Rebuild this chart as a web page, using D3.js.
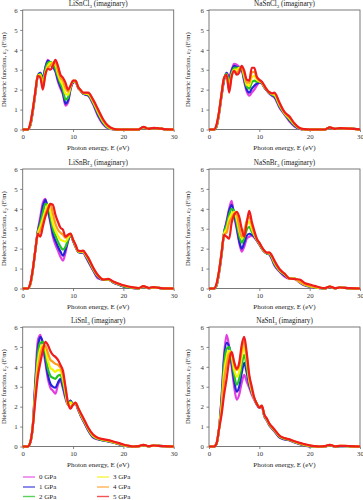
<!DOCTYPE html>
<html>
<head>
<meta charset="utf-8">
<script src="https://cdn.jsdelivr.net/npm/d3@7/dist/d3.min.js"></script>
<style>
  body { margin: 0; background: #fff; }
  svg { display: block; font-family: "Liberation Serif", "DejaVu Serif", serif; }
</style>
</head>
<body>
<svg id="chart" width="363" height="500"></svg>
<script>
// photon energy grid (eV)
const energy = [0, 1, 1.5, 2, 2.5, 3, 3.5, 4, 4.5, 5, 5.5, 6, 6.5, 7, 7.5, 8, 8.5, 9, 9.5, 10,
  10.5, 11, 11.5, 12, 12.5, 13, 14, 15, 16, 17, 18, 19, 20, 21, 22, 23, 24, 25, 26, 27, 28, 30];

const pressures = ['0 GPa', '1 GPa', '2 GPa', '3 GPa', '4 GPa', '5 GPa'];
const colors = ['#e23ee2', '#2323d8', '#22c422', '#f4f400', '#ff9a1a', '#ee1c1c'];
const xTicks = [0, 10, 20, 30];
const yTicks = [0, 1, 2, 3, 4, 5, 6];

// eps2 values, one row per pressure (0..5 GPa)
const liSnCl3 = [
  [0,0,0.2,0.9,1.8,2.7,2.85,2.6,3.1,3.5,3.3,3.1,2.9,2.4,2.05,1.75,1.2,1.35,2.0,2.35,2.4,2.1,1.95,1.8,1.75,1.7,1.25,0.65,0.25,0.05,0.01,0,0,0,0,0,0.12,0.03,0.07,0.06,0.02,0],
  [0,0,0.2,0.9,1.8,2.7,2.85,2.55,3.1,3.45,3.35,3.15,2.95,2.5,2.15,1.85,1.3,1.45,2.05,2.35,2.4,2.1,1.95,1.8,1.75,1.72,1.3,0.72,0.3,0.07,0.01,0,0,0,0,0,0.12,0.03,0.07,0.06,0.02,0],
  [0,0,0.2,0.95,1.8,2.7,2.8,2.45,3.0,3.35,3.4,3.25,3.05,2.65,2.3,2.0,1.5,1.6,2.1,2.4,2.42,2.12,1.95,1.82,1.78,1.75,1.35,0.8,0.35,0.09,0.02,0,0,0,0,0,0.12,0.03,0.07,0.06,0.02,0],
  [0,0,0.25,0.95,1.85,2.7,2.75,2.3,2.85,3.2,3.35,3.3,3.25,2.8,2.45,2.2,1.8,1.75,2.15,2.42,2.43,2.13,1.96,1.83,1.8,1.78,1.4,0.87,0.4,0.12,0.02,0,0,0,0,0,0.12,0.03,0.07,0.06,0.02,0],
  [0,0,0.25,1.0,1.85,2.7,2.7,2.15,2.75,3.1,3.2,3.35,3.4,2.95,2.6,2.45,2.1,1.9,2.2,2.45,2.44,2.14,1.97,1.84,1.82,1.82,1.45,0.93,0.45,0.15,0.03,0,0,0,0,0,0.12,0.03,0.07,0.06,0.02,0],
  [0,0,0.3,1.0,1.9,2.7,2.6,2.0,2.75,3.05,3.0,3.2,3.5,3.2,2.75,2.6,2.35,2.0,2.2,2.45,2.45,2.15,1.98,1.85,1.85,1.85,1.5,1.0,0.5,0.18,0.04,0,0,0,0,0,0.13,0.03,0.08,0.06,0.02,0]
];
const naSnCl3 = [
  [0,0,0.15,0.8,1.7,2.5,2.85,2.65,3.0,3.3,3.25,3.15,3.0,2.4,1.9,1.7,1.85,2.0,2.2,2.35,2.3,2.1,1.95,1.8,1.7,1.6,1.1,0.75,0.4,0.15,0.03,0,0,0,0,0,0.1,0.03,0.07,0.05,0.04,0],
  [0,0,0.15,0.8,1.7,2.5,2.85,2.5,2.95,3.2,3.15,3.1,3.0,2.5,2.0,1.85,2.05,2.2,2.3,2.37,2.32,2.12,1.96,1.82,1.72,1.65,1.15,0.78,0.45,0.18,0.04,0,0,0,0,0,0.1,0.03,0.07,0.05,0.04,0],
  [0,0,0.15,0.85,1.75,2.55,2.8,2.35,2.85,3.1,3.1,3.1,3.05,2.6,2.15,2.05,2.35,2.45,2.4,2.4,2.33,2.13,1.97,1.83,1.75,1.7,1.2,0.8,0.5,0.22,0.05,0,0,0,0,0,0.1,0.03,0.07,0.05,0.04,0],
  [0,0,0.2,0.85,1.75,2.6,2.75,2.2,2.75,3.0,3.0,3.1,3.1,2.7,2.25,2.2,2.6,2.7,2.5,2.42,2.35,2.15,1.98,1.85,1.78,1.75,1.25,0.82,0.55,0.25,0.06,0,0,0,0,0,0.1,0.03,0.07,0.05,0.04,0],
  [0,0,0.2,0.9,1.8,2.6,2.7,2.0,2.7,2.95,2.85,3.0,3.15,2.8,2.35,2.35,2.85,2.9,2.6,2.45,2.37,2.17,2.0,1.86,1.8,1.8,1.3,0.85,0.6,0.28,0.07,0,0,0,0,0,0.1,0.03,0.07,0.06,0.04,0],
  [0,0,0.25,0.9,1.8,2.6,2.75,1.85,2.65,2.95,2.75,2.85,3.2,2.95,2.5,2.45,3.1,3.1,2.65,2.5,2.4,2.2,2.0,1.87,1.82,1.85,1.35,0.88,0.65,0.3,0.08,0.02,0,0,0,0,0.11,0.03,0.07,0.06,0.04,0.01]
];
const liSnBr3 = [
  [0,0,0.2,0.9,1.9,2.9,3.6,4.3,4.5,3.9,3.3,2.6,2.2,1.9,1.6,1.4,1.8,2.35,2.7,2.4,2.1,1.85,1.8,1.8,1.6,1.35,0.9,0.5,0.45,0.45,0.3,0.2,0.1,0.05,0.02,0,0.1,0.02,0.05,0.03,0.01,0],
  [0,0,0.2,0.9,1.9,2.85,3.4,4.1,4.45,4.0,3.4,2.75,2.4,2.1,1.85,1.65,1.95,2.4,2.7,2.4,2.1,1.85,1.8,1.82,1.63,1.4,0.93,0.55,0.45,0.45,0.3,0.2,0.1,0.05,0.02,0,0.1,0.02,0.05,0.03,0.01,0],
  [0,0,0.2,0.9,1.9,2.8,3.25,3.8,4.25,4.2,3.6,3.0,2.65,2.35,2.1,1.95,2.1,2.45,2.72,2.42,2.12,1.86,1.82,1.84,1.66,1.45,0.96,0.6,0.45,0.45,0.32,0.22,0.12,0.06,0.03,0,0.1,0.02,0.05,0.03,0.01,0],
  [0,0,0.2,0.9,1.9,2.75,3.1,3.5,3.9,4.2,3.85,3.25,2.9,2.65,2.45,2.4,2.35,2.55,2.74,2.44,2.14,1.87,1.84,1.86,1.69,1.5,1.0,0.62,0.46,0.46,0.33,0.23,0.14,0.08,0.04,0.01,0.11,0.02,0.06,0.03,0.01,0],
  [0,0,0.25,0.95,1.9,2.7,2.9,3.3,3.7,4.05,4.25,3.75,3.25,2.95,2.8,2.7,2.55,2.65,2.75,2.45,2.16,1.88,1.86,1.88,1.72,1.55,1.02,0.65,0.46,0.47,0.34,0.24,0.15,0.09,0.05,0.01,0.11,0.02,0.06,0.03,0.01,0],
  [0,0,0.25,0.95,1.9,2.75,2.6,3.1,3.6,3.95,4.25,4.2,3.7,3.35,3.05,2.95,2.6,2.7,2.76,2.45,2.2,1.9,1.88,1.9,1.75,1.55,1.05,0.65,0.45,0.48,0.35,0.25,0.16,0.1,0.06,0.02,0.12,0.03,0.07,0.03,0.01,0]
];
const naSnBr3 = [
  [0,0,0.15,0.8,1.7,2.8,3.4,4.0,4.4,3.6,3.0,2.3,1.85,2.1,2.5,2.6,2.65,2.55,2.4,2.2,2.0,1.85,1.75,1.7,1.45,1.15,0.85,0.6,0.5,0.5,0.3,0.15,0.08,0.05,0.02,0,0.08,0.01,0.04,0.03,0.01,0],
  [0,0,0.15,0.8,1.7,2.8,3.3,3.9,4.2,3.75,3.1,2.4,2.0,2.3,2.65,2.75,2.7,2.6,2.42,2.22,2.0,1.85,1.76,1.72,1.5,1.2,0.88,0.65,0.5,0.5,0.32,0.17,0.1,0.05,0.02,0,0.08,0.01,0.04,0.03,0.01,0],
  [0,0,0.15,0.85,1.75,2.8,3.2,3.7,4.0,3.9,3.3,2.65,2.3,2.55,2.95,3.1,2.85,2.65,2.44,2.24,2.02,1.86,1.77,1.74,1.55,1.25,0.9,0.7,0.5,0.5,0.33,0.18,0.11,0.06,0.03,0,0.09,0.01,0.04,0.03,0.01,0],
  [0,0,0.2,0.85,1.75,2.75,3.0,3.5,3.75,3.85,3.5,2.9,2.5,2.75,3.2,3.35,3.0,2.7,2.46,2.26,2.04,1.87,1.78,1.76,1.6,1.3,0.93,0.72,0.5,0.5,0.34,0.2,0.12,0.07,0.03,0.01,0.09,0.01,0.04,0.03,0.01,0],
  [0,0,0.2,0.9,1.8,2.7,2.8,3.3,3.55,3.75,3.75,3.1,2.6,2.9,3.4,3.6,3.2,2.75,2.48,2.28,2.06,1.88,1.79,1.78,1.63,1.35,0.95,0.74,0.5,0.5,0.35,0.21,0.14,0.08,0.04,0.01,0.09,0.02,0.05,0.03,0.02,0],
  [0,0,0.25,0.9,1.8,2.7,2.6,2.5,3.3,3.7,3.85,3.6,3.0,2.6,3.3,3.9,3.35,2.9,2.5,2.3,2.08,1.9,1.8,1.82,1.65,1.4,0.98,0.75,0.5,0.47,0.45,0.28,0.2,0.13,0.05,0.02,0.1,0.02,0.05,0.03,0.02,0]
];
const liSnI3 = [
  [0,0,0.2,1.0,3.3,5.3,5.6,5.0,4.2,3.4,2.95,2.8,2.65,3.1,3.3,2.9,2.4,2.1,2.3,2.1,2.15,1.85,1.55,1.3,1.05,0.8,0.45,0.35,0.3,0.25,0.2,0.12,0.05,0.01,0,0,0.07,0.01,0.04,0.03,0.02,0],
  [0,0,0.2,1.0,3.1,4.9,5.5,5.2,4.4,3.6,3.15,3.0,2.95,3.2,3.4,3.0,2.5,2.15,2.3,2.1,2.16,1.87,1.57,1.32,1.08,0.83,0.47,0.37,0.3,0.26,0.2,0.13,0.05,0.01,0,0,0.07,0.01,0.04,0.03,0.02,0],
  [0,0,0.2,1.0,2.9,4.6,5.2,5.25,4.7,3.9,3.55,3.45,3.4,3.55,3.6,3.2,2.6,2.1,2.25,2.1,2.17,1.9,1.6,1.35,1.12,0.87,0.5,0.38,0.32,0.27,0.21,0.14,0.06,0.02,0,0,0.07,0.01,0.04,0.03,0.02,0],
  [0,0,0.2,1.0,2.7,4.2,4.9,5.1,4.9,4.3,3.95,3.85,3.75,3.85,3.8,3.4,2.75,2.1,2.2,2.1,2.18,1.92,1.63,1.38,1.15,0.9,0.53,0.4,0.33,0.28,0.22,0.15,0.07,0.02,0,0,0.07,0.01,0.04,0.03,0.02,0],
  [0,0,0.2,1.0,2.5,3.8,4.6,5.0,5.05,4.7,4.35,4.25,4.15,4.1,3.95,3.6,2.9,2.15,2.0,2.1,2.19,1.94,1.66,1.4,1.18,0.93,0.56,0.42,0.35,0.3,0.23,0.16,0.08,0.03,0,0.01,0.08,0.01,0.05,0.03,0.02,0],
  [0,0,0.2,1.0,2.3,3.5,4.2,4.8,5.25,5.1,4.8,4.6,4.5,4.35,4.1,3.8,3.0,2.2,1.9,2.1,2.2,1.95,1.7,1.45,1.2,0.95,0.6,0.43,0.37,0.32,0.25,0.18,0.1,0.04,0,0.02,0.08,0.02,0.05,0.03,0.02,0]
];
const naSnI3 = [
  [0,0,0.15,0.9,2.5,4.6,5.6,5.0,4.0,3.0,2.35,2.6,3.2,3.6,3.25,2.95,2.6,2.35,2.1,1.95,2.0,1.5,1.3,1.05,0.9,0.75,0.45,0.35,0.3,0.2,0.12,0.05,0,0,0,0,0.06,0,0.02,0.02,0.01,0],
  [0,0,0.15,0.9,2.4,4.4,5.2,5.0,4.2,3.3,2.75,3.0,3.7,4.2,3.7,3.1,2.7,2.4,2.12,1.96,2.0,1.52,1.32,1.07,0.92,0.78,0.47,0.37,0.32,0.22,0.13,0.06,0.01,0,0,0,0.06,0,0.02,0.02,0.01,0],
  [0,0,0.15,0.9,2.2,4.1,4.9,5.0,4.4,3.6,3.1,3.4,4.1,4.6,4.0,3.25,2.75,2.4,2.14,1.97,2.02,1.54,1.34,1.09,0.94,0.8,0.5,0.38,0.33,0.23,0.14,0.07,0.02,0,0,0,0.07,0,0.02,0.02,0.01,0],
  [0,0,0.15,0.9,2.0,3.7,4.5,4.8,4.55,3.85,3.5,3.75,4.5,5.0,4.3,3.35,2.8,2.4,2.15,1.98,2.03,1.56,1.36,1.11,0.96,0.82,0.52,0.4,0.34,0.24,0.15,0.08,0.03,0,0,0,0.07,0.01,0.03,0.02,0.01,0],
  [0,0,0.15,0.9,1.8,3.3,4.1,4.65,4.7,4.1,3.85,4.05,4.85,5.3,4.5,3.45,2.85,2.4,2.16,1.99,2.04,1.58,1.38,1.13,0.98,0.84,0.54,0.41,0.35,0.25,0.16,0.09,0.04,0.01,0,0.01,0.08,0.01,0.03,0.03,0.02,0],
  [0,0,0.15,0.9,1.6,2.6,3.4,4.3,4.75,4.25,3.9,4.2,5.1,5.5,4.7,3.6,3.0,2.45,2.15,1.95,2.05,1.6,1.4,1.15,1.0,0.85,0.55,0.42,0.36,0.26,0.18,0.12,0.06,0.02,0,0.02,0.08,0.01,0.03,0.03,0.02,0]
];

const panels = [
  { base: 'LiSnCl', data: liSnCl3, col: 0, row: 0 },
  { base: 'NaSnCl', data: naSnCl3, col: 1, row: 0 },
  { base: 'LiSnBr', data: liSnBr3, col: 0, row: 1 },
  { base: 'NaSnBr', data: naSnBr3, col: 1, row: 1 },
  { base: 'LiSnI', data: liSnI3, col: 0, row: 2 },
  { base: 'NaSnI', data: naSnI3, col: 1, row: 2 }
];

const svg = d3.select('#chart');
const colLeft = [22.7, 209];
const plotW = 151;
const rowTop = [10, 169, 327];
const plotH = 119.5;
const axisColor = '#6b6b6b';

panels.forEach(p => {
  const x0 = colLeft[p.col], y0 = rowTop[p.row];
  const g = svg.append('g').attr('transform', 'translate(' + x0 + ',' + y0 + ')');

  const xScale = d3.scaleLinear().domain([0, 30]).range([0, plotW]);
  const yScale = d3.scaleLinear().domain([0, 6]).range([plotH, 0]);

  // frame
  g.append('rect')
    .attr('width', plotW).attr('height', plotH)
    .attr('fill', 'none').attr('stroke', axisColor).attr('stroke-width', 0.9);

  const ax = g.append('g').attr('transform', 'translate(0,' + plotH + ')')
    .call(d3.axisBottom(xScale).tickValues(xTicks).tickFormat(d3.format('d'))
      .tickSize(2.5).tickPadding(2));
  const ay = g.append('g')
    .call(d3.axisLeft(yScale).tickValues(yTicks).tickFormat(d3.format('d'))
      .tickSize(2.5).tickPadding(2.5));
  [ax, ay].forEach(a => {
    a.select('.domain').remove();
    a.selectAll('line').attr('stroke', axisColor).attr('stroke-width', 0.8);
    a.selectAll('text').attr('font-family', '"Liberation Serif", serif')
      .attr('font-size', 6.8).attr('fill', '#333');
  });

  const line = d3.line()
    .x((d, i) => xScale(energy[i]))
    .y(d => yScale(d))
    .curve(d3.curveMonotoneX);

  p.data.forEach((series, k) => {
    g.append('path')
      .datum(series)
      .attr('fill', 'none')
      .attr('stroke', colors[k])
      .attr('stroke-width', 2.2)
      .attr('stroke-linejoin', 'round')
      .attr('d', line);
  });

  // title with subscript
  const t = g.append('text')
    .attr('x', plotW / 2).attr('y', -4)
    .attr('text-anchor', 'middle')
    .attr('font-size', 7.2).attr('fill', '#222');
  t.append('tspan').text(p.base);
  t.append('tspan').attr('font-size', 5).attr('dy', 1.5).text('3');
  t.append('tspan').attr('dy', -1.5).text(' (imaginary)');

  // x title
  g.append('text')
    .attr('x', plotW / 2).attr('y', plotH + 20)
    .attr('text-anchor', 'middle')
    .attr('font-size', 7).attr('fill', '#222')
    .text('Photon energy, E (eV)');

  // y title
  const yl = g.append('text')
    .attr('transform', 'translate(' + (p.col === 0 ? -16.5 : -19) + ',' + (plotH / 2) + ') rotate(-90)')
    .attr('text-anchor', 'middle')
    .attr('font-size', 6.6).attr('fill', '#222');
  yl.append('tspan').text('Dielectric function, ε');
  yl.append('tspan').attr('font-size', 4.6).attr('dy', 1.3).text('2');
  yl.append('tspan').attr('dy', -1.3).text(' (F/m)');
});

// legend
const legendRows = [477, 487, 496.5];
const legend = svg.append('g');
pressures.forEach((label, k) => {
  const col = Math.floor(k / 3), row = k % 3;
  const lx = col === 0 ? 23 : 97;
  const ly = legendRows[row];
  legend.append('line')
    .attr('x1', lx).attr('x2', lx + 12).attr('y1', ly).attr('y2', ly)
    .attr('stroke', colors[k]).attr('stroke-width', 1.4).attr('opacity', 0.75);
  legend.append('text')
    .attr('x', lx + 16).attr('y', ly + 2.4)
    .attr('font-size', 7).attr('fill', '#222')
    .text(label);
});
</script>
</body>
</html>
